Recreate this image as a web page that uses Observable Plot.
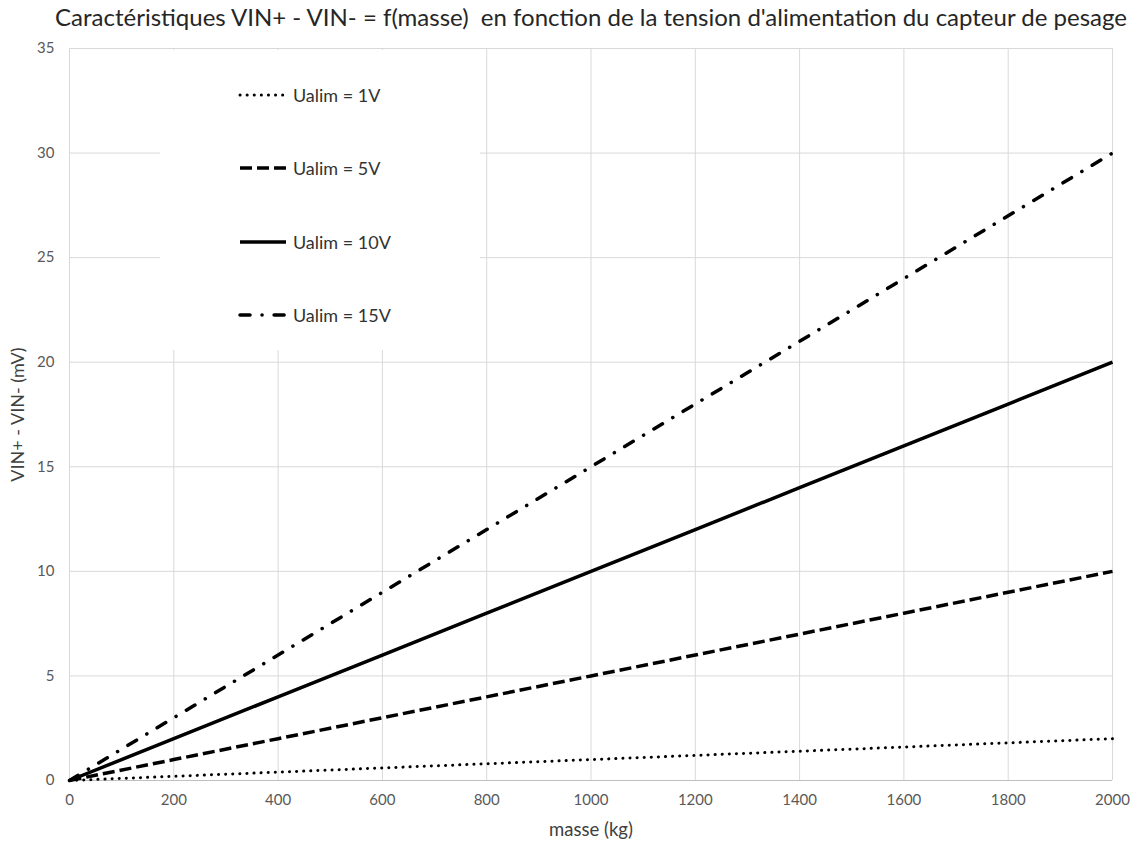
<!DOCTYPE html>
<html>
<head>
<meta charset="utf-8">
<script src="https://cdn.jsdelivr.net/npm/d3@7"></script>
<script src="https://cdn.jsdelivr.net/npm/@observablehq/plot@0.6"></script>
<style>
  html, body { margin: 0; padding: 0; background: #fff; }
  #wrap { position: relative; width: 1134px; height: 842px; font-family: Lato, "Open Sans", sans-serif; }
  #legend { position: absolute; left: 160px; top: 50px; width: 320px; height: 300px; background: #fff; }
  .item { position: absolute; left: 78px; height: 20px; display: flex; align-items: center; font-size: 18px; color: #333; white-space: nowrap; }
  .item svg { display: block; margin-right: 5px; }
</style>
</head>
<body>
<div id="wrap"></div>
<script>
// Data
const masses = [0, 200, 400, 600, 800, 1000, 1200, 1400, 1600, 1800, 2000];
const u1V  = [0, 0.2, 0.4, 0.6, 0.8, 1.0, 1.2, 1.4, 1.6, 1.8, 2.0];
const u5V  = [0, 1, 2, 3, 4, 5, 6, 7, 8, 9, 10];
const u10V = [0, 2, 4, 6, 8, 10, 12, 14, 16, 18, 20];
const u15V = [0, 3, 6, 9, 12, 15, 18, 21, 24, 27, 30];
const seriesNames = ["Ualim = 1V", "Ualim = 5V", "Ualim = 10V", "Ualim = 15V"];
const xTicks = [0, 200, 400, 600, 800, 1000, 1200, 1400, 1600, 1800, 2000];
const yTicks = [0, 5, 10, 15, 20, 25, 30, 35];
const title = "Caractéristiques VIN+ - VIN- = f(masse)  en fonction de la tension d'alimentation du capteur de pesage";
const xLabel = "masse (kg)";
const yLabel = "VIN+ - VIN- (mV)";

const styles = [
  {strokeWidth: 3, strokeDasharray: "0.1 7", strokeLinecap: "round"},
  {strokeWidth: 3.5, strokeDasharray: "12 5", strokeLinecap: "butt"},
  {strokeWidth: 3.5, strokeDasharray: null, strokeLinecap: "butt"},
  {strokeWidth: 3.5, strokeDasharray: "10 12 0.1 12", strokeLinecap: "round"}
];
const valuesList = [u1V, u5V, u10V, u15V];
const tables = valuesList.map(vals => masses.map((m, i) => ({m, v: vals[i]})));

const marks = [
  Plot.gridX(xTicks, {stroke: "#d9d9d9", strokeOpacity: 1}),
  Plot.gridY(yTicks, {stroke: "#d9d9d9", strokeOpacity: 1}),
  Plot.ruleY([0], {stroke: "#bfbfbf"}),
  Plot.ruleX([0], {stroke: "#d9d9d9"}),
  Plot.axisX(xTicks, {tickSize: 0, tickPadding: 14, fontSize: 15, color: "#595959",
    tickFormat: d => String(d), label: null}),
  Plot.axisY(yTicks, {tickSize: 0, tickPadding: 15, fontSize: 15, color: "#595959",
    tickFormat: d => String(d), label: null}),
  ...tables.map((t, i) => Plot.line(t, {x: "m", y: "v", stroke: "black", ...styles[i]})),
  Plot.text([title], {frameAnchor: "top", lineAnchor: "middle", dy: -30, fontSize: 24, fill: "#262626"}),
  Plot.text([xLabel], {frameAnchor: "bottom", lineAnchor: "middle", dy: 50, fontSize: 18.5, fill: "#404040"}),
  Plot.text([yLabel], {frameAnchor: "left", textAnchor: "middle", lineAnchor: "middle", dx: -51, rotate: -90, fontSize: 18, fill: "#404040"})
];

const chart = Plot.plot({
  width: 1134,
  height: 842,
  marginTop: 48,
  marginBottom: 62,
  marginLeft: 69,
  marginRight: 22,
  style: {fontFamily: "Lato, 'Open Sans', sans-serif", background: "#fff", overflow: "visible"},
  x: {domain: [0, 2000]},
  y: {domain: [0, 35]},
  marks
});
const wrap = document.getElementById("wrap");
wrap.appendChild(chart);

// Legend
const legend = document.createElement("div");
legend.id = "legend";
const rowTops = [35, 108, 182, 255];
seriesNames.forEach((name, i) => {
  const row = document.createElement("div");
  row.className = "item";
  row.style.top = rowTops[i] + "px";
  const s = d3.create("svg").attr("width", 50).attr("height", 20);
  s.append("line").attr("x1", 2).attr("x2", 48).attr("y1", 10).attr("y2", 10)
    .attr("stroke", "black")
    .attr("stroke-width", styles[i].strokeWidth)
    .attr("stroke-dasharray", styles[i].strokeDasharray)
    .attr("stroke-linecap", styles[i].strokeLinecap);
  row.appendChild(s.node());
  const span = document.createElement("span");
  span.textContent = name;
  row.appendChild(span);
  legend.appendChild(row);
});
wrap.appendChild(legend);
</script>
</body>
</html>
